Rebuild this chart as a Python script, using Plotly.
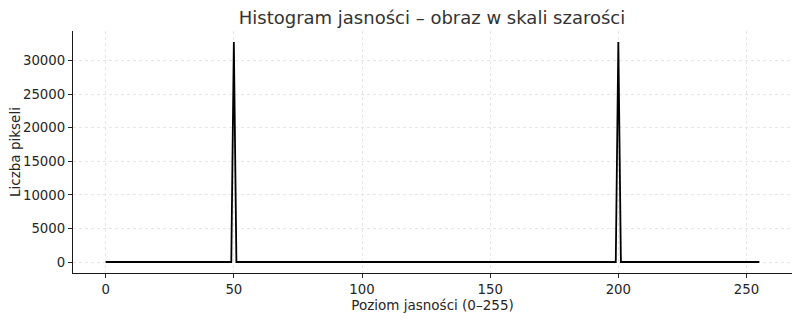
import plotly.graph_objects as go

# Data
levels = list(range(256))
peak_levels = [50, 200]
peak_counts = [32768, 32768]
counts = [0] * 256
for lv, c in zip(peak_levels, peak_counts):
    counts[lv] = c

x_ticks = [0, 50, 100, 150, 200, 250]
y_ticks = [0, 5000, 10000, 15000, 20000, 25000, 30000]

title = "Histogram jasności – obraz w skali szarości"
x_label = "Poziom jasności (0–255)"
y_label = "Liczba pikseli"

fig = go.Figure()
fig.add_trace(go.Scatter(x=levels, y=counts, mode="lines",
                         line=dict(color="black", width=1.8), showlegend=False))

font = "DejaVu Sans"
fig.update_layout(
    width=800, height=320,
    margin=dict(l=73, r=8, t=31, b=47),
    paper_bgcolor="white", plot_bgcolor="white",
    font=dict(family=font, size=13.3, color="#262626"),
    title=dict(text=title, x=0.54, xanchor="center",
               y=1 - 18 / 320, yanchor="middle",
               font=dict(size=18, color="#333333")),
)
fig.add_annotation(text=y_label, xref="paper", yref="paper",
                   x=(15 - 73) / 719, y=0.5, xanchor="center", yanchor="middle",
                   textangle=-90, showarrow=False, font=dict(size=13.5))
fig.update_xaxes(
    range=[-12.75, 267.75], tickvals=x_ticks, ticks="outside", ticklen=4,
    tickcolor="#262626", showline=True, linecolor="#1a1a1a", linewidth=1.2,
    showgrid=True, gridcolor="#e6e6e6", griddash="dot", gridwidth=1,
    zeroline=False, automargin=False,
    title=dict(text=x_label, standoff=0, font=dict(size=13.5)),
)
fig.update_yaxes(
    range=[-1638.4, 34406.4], tickvals=y_ticks, tickformat="d",
    ticks="outside", ticklen=4,
    tickcolor="#262626", showline=True, linecolor="#1a1a1a", linewidth=1.2,
    showgrid=True, gridcolor="#e6e6e6", griddash="dot", gridwidth=1,
    zeroline=False, automargin=False,
)

fig.write_html("out.html")
